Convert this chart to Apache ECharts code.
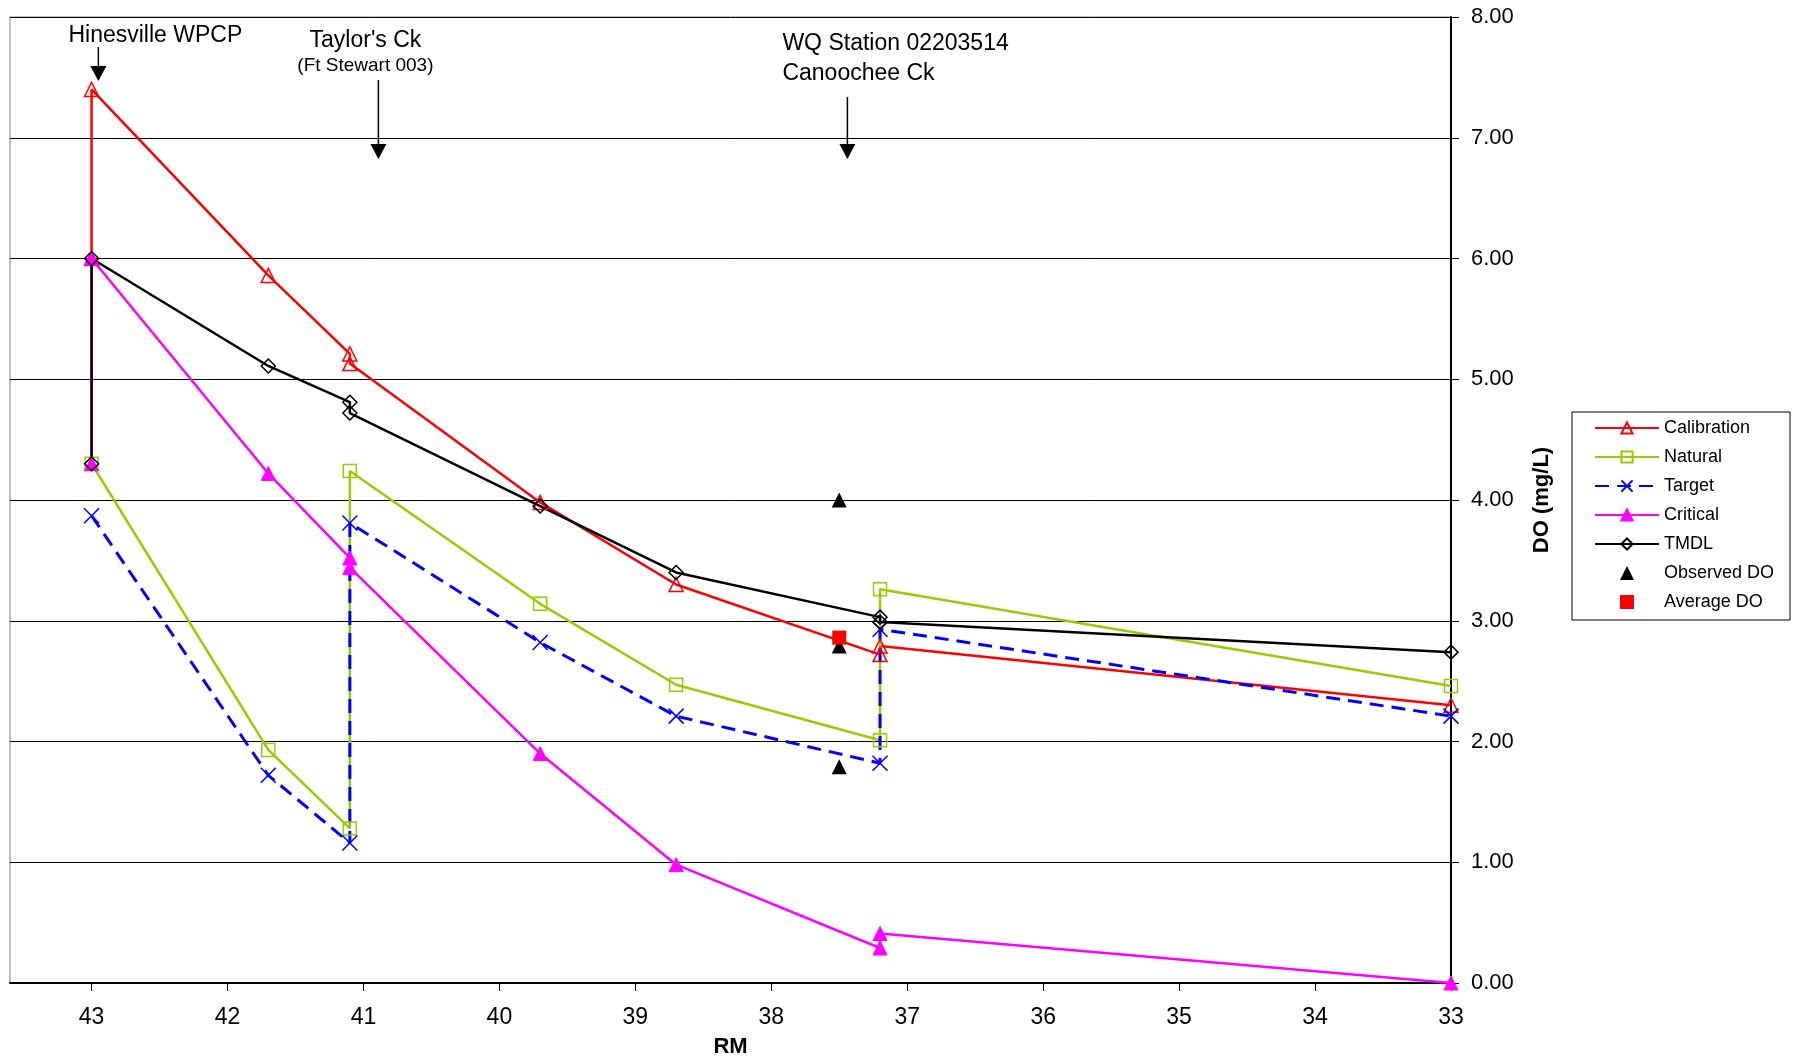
<!DOCTYPE html>
<html>
<head>
<meta charset="utf-8">
<script src="https://cdn.jsdelivr.net/npm/echarts@6/dist/echarts.min.js"></script>
<style>
html,body{margin:0;padding:0;background:#fff;}
#chart{width:1796px;height:1060px;}
</style>
</head>
<body>
<div id="chart"></div>
<script>
// ---- Data (river mile vs DO mg/L) ----
const xTicks = [43, 42, 41, 40, 39, 38, 37, 36, 35, 34, 33];
const yTicks = [0, 1, 2, 3, 4, 5, 6, 7, 8];

const calX  = [43, 43, 41.7, 41.1, 41.1, 39.7, 38.7, 37.2, 37.2, 33];
const calY  = [6.00, 7.40, 5.86, 5.21, 5.13, 3.98, 3.30, 2.72, 2.79, 2.30];

const natX  = [43, 41.7, 41.1, 41.1, 39.7, 38.7, 37.2, 37.2, 33];
const natY  = [4.30, 1.93, 1.28, 4.24, 3.14, 2.47, 2.01, 3.26, 2.46];

const tgtX  = [43, 41.7, 41.1, 41.1, 39.7, 38.7, 37.2, 37.2, 33];
const tgtY  = [3.87, 1.72, 1.16, 3.81, 2.82, 2.21, 1.82, 2.93, 2.21];

const critX = [43, 43, 41.7, 41.1, 41.1, 39.7, 38.7, 37.2, 37.2, 33];
const critY = [4.30, 6.00, 4.22, 3.52, 3.44, 1.90, 0.98, 0.29, 0.41, 0.00];

const tmdlX = [43, 43, 41.7, 41.1, 41.1, 39.7, 38.7, 37.2, 37.2, 33];
const tmdlY = [4.30, 6.00, 5.11, 4.81, 4.72, 3.95, 3.40, 3.03, 2.99, 2.74];

const obsX  = [37.5, 37.5, 37.5];
const obsY  = [4.00, 2.79, 1.79];

const avgX  = [37.5];
const avgY  = [2.86];

const seriesNames = ['Calibration', 'Natural', 'Target', 'Critical', 'TMDL', 'Observed DO', 'Average DO'];

// annotation labels and their river-mile locations
const annHines = {text: 'Hinesville WPCP', rm: 42.95};
const annTaylor = {text: "Taylor's Ck", sub: '(Ft Stewart 003)', rm: 40.89};
const annWQ = {text: 'WQ Station 02203514', sub: 'Canoochee Ck', rm: 37.44};

const zip = (xs, ys) => xs.map((x, i) => [x, ys[i]]);
const FONT = '"Liberation Sans", Arial, sans-serif';

const TRI_PATH = 'path://M0,10L5,0L10,10Z';
const SQ_PATH = 'path://M0,0L10,0L10,10L0,10Z';

const chart = echarts.init(document.getElementById('chart'), null, {renderer: 'canvas'});

const option = {
  backgroundColor: '#ffffff',
  animation: false,
  textStyle: {fontFamily: FONT},
  grid: {
    left: 10, right: 345, top: 17, bottom: 77,
    containLabel: false,
    outerBoundsMode: 'none',
    show: true, borderColor: '#808080', borderWidth: 1
  },
  xAxis: {
    type: 'value',
    min: 33, max: 43.6,
    inverse: true,
    name: 'RM',
    nameLocation: 'middle',
    nameGap: 53,
    nameTextStyle: {fontSize: 22, fontWeight: 'bold', color: '#000', fontFamily: FONT},
    axisLine: {show: true, onZero: false, lineStyle: {color: '#000', width: 2}},
    axisTick: {show: true, customValues: xTicks, length: 8, lineStyle: {color: '#000', width: 1}},
    axisLabel: {customValues: xTicks, margin: 23, fontSize: 23, color: '#000', fontFamily: FONT},
    splitLine: {show: false}
  },
  yAxis: {
    type: 'value',
    position: 'right',
    min: 0, max: 8, interval: 1,
    name: 'DO (mg/L)',
    nameLocation: 'middle',
    nameRotate: 90,
    nameGap: 80,
    nameTextStyle: {fontSize: 22, fontWeight: 'bold', color: '#000', fontFamily: FONT},
    axisLine: {show: true, lineStyle: {color: '#000', width: 2}},
    axisTick: {show: true, inside: false, length: 8, lineStyle: {color: '#000'}},
    axisLabel: {margin: 20, fontSize: 22, color: '#000', fontFamily: FONT,
      formatter: v => v.toFixed(2)},
    splitLine: {show: true, lineStyle: {color: '#000', width: 1}}
  },
  legend: {
    orient: 'vertical',
    left: 1572, top: 412,
    padding: [7, 16, 9, 22],
    itemWidth: 64, itemHeight: 14, itemGap: 11,
    backgroundColor: '#fff',
    borderColor: '#000', borderWidth: 1,
    symbolKeepAspect: true,
    textStyle: {fontSize: 18, color: '#000', fontFamily: FONT},
    data: [
      'Calibration', 'Natural', 'Target', 'Critical', 'TMDL',
      {name: 'Observed DO', icon: TRI_PATH, itemStyle: {color: '#000000', opacity: 1}},
      {name: 'Average DO', icon: SQ_PATH, itemStyle: {color: '#FF0000', opacity: 1}}
    ]
  },
  series: [
    {
      name: 'Calibration', type: 'line', data: zip(calX, calY),
      symbol: 'triangle', symbolSize: 14,
      lineStyle: {color: '#FF0000', width: 2.5},
      itemStyle: {color: 'rgba(255,255,255,0)', borderColor: '#FF0000', borderWidth: 1.5}
    },
    {
      name: 'Natural', type: 'line', data: zip(natX, natY),
      symbol: 'rect', symbolSize: 13,
      lineStyle: {color: '#99CC00', width: 2.5},
      itemStyle: {color: 'rgba(255,255,255,0)', borderColor: '#99CC00', borderWidth: 1.5}
    },
    {
      name: 'Target', type: 'line', data: zip(tgtX, tgtY),
      symbol: 'path://M0,0L10,10M10,0L0,10', symbolSize: 15,
      lineStyle: {color: '#0000FF', width: 3, type: [14, 8]},
      itemStyle: {color: 'rgba(0,0,0,0)', borderColor: '#0000FF', borderWidth: 1.5}
    },
    {
      name: 'Critical', type: 'line', data: zip(critX, critY),
      symbol: 'triangle', symbolSize: 14,
      lineStyle: {color: '#FF00FF', width: 2.5},
      itemStyle: {color: '#FF00FF', borderColor: '#FF00FF', borderWidth: 1}
    },
    {
      name: 'TMDL', type: 'line', data: zip(tmdlX, tmdlY),
      symbol: 'diamond', symbolSize: 14,
      lineStyle: {color: '#000000', width: 2.5},
      itemStyle: {color: 'rgba(255,255,255,0)', borderColor: '#000000', borderWidth: 1.5}
    },
    {
      name: 'Observed DO', type: 'scatter', data: zip(obsX, obsY),
      symbol: 'triangle', symbolSize: 15,
      itemStyle: {color: '#000000', opacity: 1}
    },
    {
      name: 'Average DO', type: 'scatter', data: zip(avgX, avgY),
      symbol: 'rect', symbolSize: 14,
      itemStyle: {color: '#FF0000', opacity: 1}
    }
  ]
};

chart.setOption(option);

function arrow(x, y1, y2, headH, headW) {
  return [
    {type: 'line', shape: {x1: x, y1: y1, x2: x, y2: y2 - headH},
     style: {stroke: '#000', lineWidth: 1.5}, z: 100},
    {type: 'polygon', shape: {points: [[x - headW / 2, y2 - headH], [x + headW / 2, y2 - headH], [x, y2]]},
     style: {fill: '#000'}, z: 100}
  ];
}

const px = rm => chart.convertToPixel({gridIndex: 0}, [rm, 0])[0];
const xH = px(annHines.rm), xT = px(annTaylor.rm), xW = px(annWQ.rm);

const graphics = [
  {type: 'text', x: xH + 57, y: 36, z: 100,
   style: {text: annHines.text, font: '23px ' + FONT, fill: '#000', align: 'center', verticalAlign: 'middle'}},
  {type: 'text', x: xT - 13, y: 41, z: 100,
   style: {text: annTaylor.text, font: '23px ' + FONT, fill: '#000', align: 'center', verticalAlign: 'middle'}},
  {type: 'text', x: xT - 13, y: 66, z: 100,
   style: {text: annTaylor.sub, font: '19px ' + FONT, fill: '#000', align: 'center', verticalAlign: 'middle'}},
  {type: 'text', x: xW - 65, y: 44, z: 100,
   style: {text: annWQ.text, font: '23px ' + FONT, fill: '#000', align: 'left', verticalAlign: 'middle'}},
  {type: 'text', x: xW - 65, y: 74, z: 100,
   style: {text: annWQ.sub, font: '23px ' + FONT, fill: '#000', align: 'left', verticalAlign: 'middle'}}
]
  .concat(arrow(xH, 47, 81, 15, 16))
  .concat(arrow(xT, 80, 159, 15, 16))
  .concat(arrow(xW, 97, 159, 15, 16));

chart.setOption({graphic: graphics});
</script>
</body>
</html>
